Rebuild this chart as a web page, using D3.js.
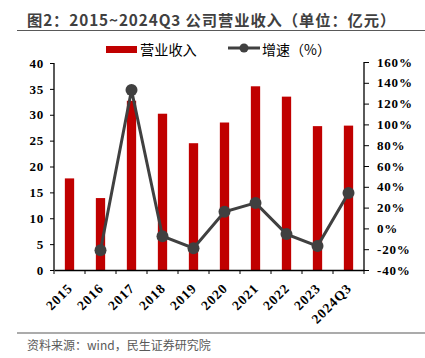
<!DOCTYPE html>
<html>
<head>
<meta charset="utf-8">
<script src="https://cdn.jsdelivr.net/npm/d3@7"></script>
<style>
  body { margin: 0; background: #fff; }
  svg { display: block; }
</style>
</head>
<body>
<svg id="chart"></svg>
<script>
const years = ['2015', '2016', '2017', '2018', '2019', '2020', '2021', '2022', '2023', '2024Q3'];
const revenue = [17.7, 13.9, 32.7, 30.2, 24.5, 28.5, 35.5, 33.5, 27.8, 27.9];
const growth = [null, -21, 133, -7.5, -19, 16, 24.5, -5.5, -17, 34];
const leftTicks = [0, 5, 10, 15, 20, 25, 30, 35, 40];
const rightTicks = [-40, -20, 0, 20, 40, 60, 80, 100, 120, 140, 160];

const width = 425;
const height = 358;
const plotLeft = 54, plotRight = 364, plotTop = 63, plotBottom = 270;

const svg = d3.select('#chart').attr('width', width).attr('height', height);

const serif = '"Liberation Serif", "Times New Roman", serif';
const sans = '"Noto Sans CJK SC", "Noto Sans", sans-serif';

// title
svg.append('text')
    .attr('x', 27).attr('y', 25.5)
    .attr('font-family', sans).attr('font-weight', 'bold')
    .attr('font-size', 15.3).attr('letter-spacing', 0.9).attr('fill', '#404040')
    .text('图2：2015~2024Q3 公司营业收入（单位：亿元）');
svg.append('line')
    .attr('x1', 17).attr('x2', 425).attr('y1', 30.5).attr('y2', 30.5)
    .attr('stroke', '#595959').attr('stroke-width', 1.2);

let xScale = d3.scaleBand().domain(years).range([plotLeft, plotRight]);
let yLeft = d3.scaleLinear().domain([0, 40]).range([plotBottom, plotTop]);
let yRight = d3.scaleLinear().domain([-40, 160]).range([plotBottom, plotTop - 1]);

// bars
const barW = 9.3;
svg.selectAll('rect.bar')
    .data(years)
    .enter()
    .append('rect')
    .attr('class', 'bar')
    .attr('x', (d) => xScale(d) + xScale.bandwidth() / 2 - barW / 2)
    .attr('y', (d, i) => yLeft(revenue[i]))
    .attr('width', barW)
    .attr('height', (d, i) => plotBottom - yLeft(revenue[i]))
    .attr('fill', '#c00000');

// axes
let leftAxis = d3.axisLeft(yLeft).tickValues(leftTicks).tickSize(4).tickPadding(6);
let gL = svg.append('g').attr('transform', 'translate(' + plotLeft + ',0)').call(leftAxis);

let rightAxis = d3.axisRight(yRight).tickValues(rightTicks).tickSize(5).tickPadding(8)
    .tickFormat((d) => d + '%');
let gR = svg.append('g').attr('transform', 'translate(' + plotRight + ',0)').call(rightAxis);

let bottomAxis = d3.axisBottom(xScale).tickSize(0).tickFormat('');
let gB = svg.append('g').attr('transform', 'translate(0,' + plotBottom + ')').call(bottomAxis);

// band boundary ticks on x axis
const bounds = years.map((d) => xScale(d)).concat([plotRight]);
svg.selectAll('line.xtick')
    .data(bounds)
    .enter()
    .append('line')
    .attr('x1', (d) => d).attr('x2', (d) => d)
    .attr('y1', plotBottom).attr('y2', plotBottom + 4)
    .attr('stroke', '#000');

[gL, gR, gB].forEach((g) => {
    g.selectAll('path').attr('stroke', '#000').attr('stroke-width', 1.3);
    g.selectAll('line').attr('stroke', '#000');
    g.selectAll('text')
        .attr('font-family', serif).attr('font-weight', 'bold')
        .attr('font-size', 13).attr('letter-spacing', 0.8).attr('fill', '#000');
});
gL.select('path').attr('d', 'M0,' + plotTop + 'V' + plotBottom);
gR.select('path').attr('d', 'M0,' + (plotTop - 1) + 'V' + plotBottom);

// x labels
svg.selectAll('text.xlabel')
    .data(years)
    .enter()
    .append('text')
    .attr('class', 'xlabel')
    .attr('text-anchor', 'end')
    .attr('font-family', serif).attr('font-weight', 'bold')
    .attr('font-size', 13.5).attr('letter-spacing', 1)
    .attr('transform', (d) => 'translate(' + (xScale(d) + xScale.bandwidth() / 2 + 4) + ',' + (plotBottom + 19) + ') rotate(-45)')
    .text((d) => d);

// growth line
const pts = years.map((d, i) => ({ year: d, v: growth[i] })).filter((p) => p.v !== null);
let line = d3.line()
    .x((p) => xScale(p.year) + xScale.bandwidth() / 2)
    .y((p) => yRight(p.v));
svg.append('path')
    .datum(pts)
    .attr('d', line)
    .attr('fill', 'none')
    .attr('stroke', '#404040')
    .attr('stroke-width', 3);
svg.selectAll('circle.pt')
    .data(pts)
    .enter()
    .append('circle')
    .attr('class', 'pt')
    .attr('cx', (p) => xScale(p.year) + xScale.bandwidth() / 2)
    .attr('cy', (p) => yRight(p.v))
    .attr('r', 6)
    .attr('fill', '#404040');

// legend
svg.append('rect').attr('x', 106).attr('y', 46).attr('width', 31).attr('height', 7).attr('fill', '#c00000');
svg.append('text').attr('x', 140).attr('y', 55)
    .attr('font-family', sans).attr('font-size', 14.2).attr('fill', '#000')
    .text('营业收入');
svg.append('line').attr('x1', 228).attr('x2', 260).attr('y1', 48).attr('y2', 48)
    .attr('stroke', '#404040').attr('stroke-width', 3);
svg.append('circle').attr('cx', 244).attr('cy', 48).attr('r', 4.5).attr('fill', '#404040');
svg.append('text').attr('x', 262).attr('y', 55)
    .attr('font-family', sans).attr('font-size', 14).attr('fill', '#000')
    .text('增速（%）');

// footer
svg.append('line')
    .attr('x1', 17).attr('x2', 425).attr('y1', 333).attr('y2', 333)
    .attr('stroke', '#595959').attr('stroke-width', 1.2);
svg.append('text')
    .attr('x', 27).attr('y', 350)
    .attr('font-family', sans).attr('font-size', 12).attr('fill', '#595959')
    .text('资料来源：wind，民生证券研究院');
</script>
</body>
</html>
